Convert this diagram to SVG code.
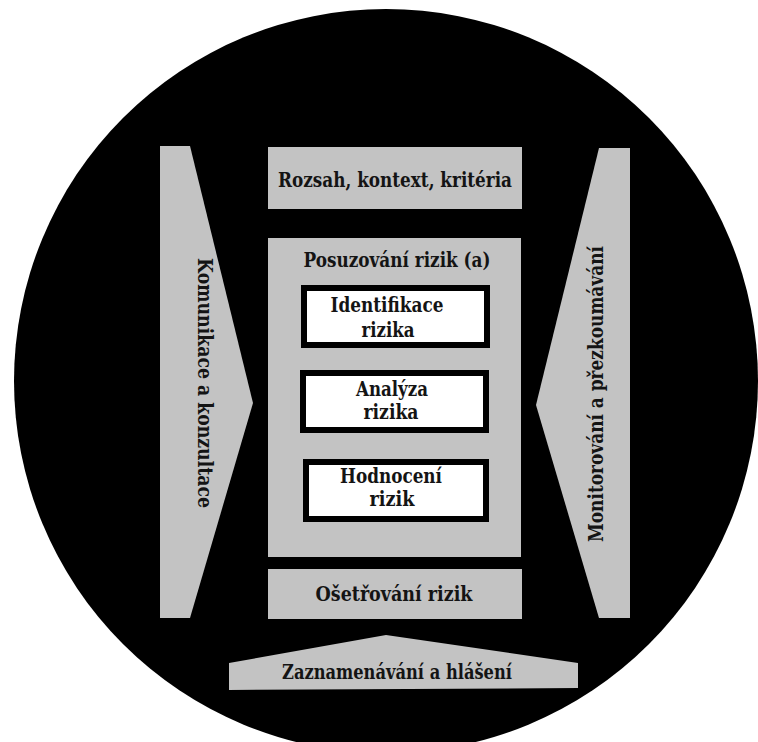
<svg xmlns="http://www.w3.org/2000/svg" width="758" height="742" viewBox="0 0 758 742">
<style>
.g{fill:#c3c3c3}
.w{fill:#ffffff;stroke:#000000;stroke-width:6}
text{font-family:'DejaVu Serif',serif;font-weight:bold;font-size:20.5px;fill:#141414;text-anchor:middle}
</style>
<rect width="758" height="742" fill="#ffffff"/>
<circle id="background" cx="386" cy="381" r="372" fill="#000000"/>
<g id="communication">
<polygon class="g" points="160,146 190,146 253,403 190,618 160,618"/>
<text transform="translate(198,383) rotate(90)" textLength="250" lengthAdjust="spacingAndGlyphs">Komunikace a konzultace</text>
</g>
<g id="monitoring">
<polygon class="g" points="599,148 630,148 630,618 599,618 536,405"/>
<text transform="translate(603,394) rotate(-90)" textLength="296" lengthAdjust="spacingAndGlyphs">Monitorování a přezkoumávání</text>
</g>
<g id="scope">
<rect class="g" x="268" y="147" width="254" height="62"/>
<text x="395" y="187" textLength="234" lengthAdjust="spacingAndGlyphs">Rozsah, kontext, kritéria</text>
</g>
<g id="assessment">
<rect class="g" x="268" y="238" width="253" height="319"/>
<text x="397" y="267" textLength="187" lengthAdjust="spacingAndGlyphs">Posuzování rizik (a)</text>
</g>
<g id="identification">
<rect class="w" x="304" y="288" width="183" height="57"/>
<text x="387" y="312" textLength="113" lengthAdjust="spacingAndGlyphs">Identifikace</text>
<text x="388" y="337" textLength="53" lengthAdjust="spacingAndGlyphs">rizika</text>
</g>
<g id="analysis">
<rect class="w" x="303" y="373" width="183" height="57"/>
<text x="392" y="396" textLength="72" lengthAdjust="spacingAndGlyphs">Analýza</text>
<text x="391" y="419" textLength="55" lengthAdjust="spacingAndGlyphs">rizika</text>
</g>
<g id="evaluation">
<rect class="w" x="306" y="462" width="180" height="57"/>
<text x="391" y="483" textLength="102" lengthAdjust="spacingAndGlyphs">Hodnocení</text>
<text x="392" y="506" textLength="45" lengthAdjust="spacingAndGlyphs">rizik</text>
</g>
<g id="treatment">
<rect class="g" x="268" y="569" width="254" height="50"/>
<text x="394" y="601" textLength="157" lengthAdjust="spacingAndGlyphs">Ošetřování rizik</text>
</g>
<g id="recording">
<polygon class="g" points="229,663 386,635 578,663 578,688 229,690"/>
<text x="397" y="679" textLength="230" lengthAdjust="spacingAndGlyphs">Zaznamenávání a hlášení</text>
</g>
<g id="connectors"/>
</svg>
